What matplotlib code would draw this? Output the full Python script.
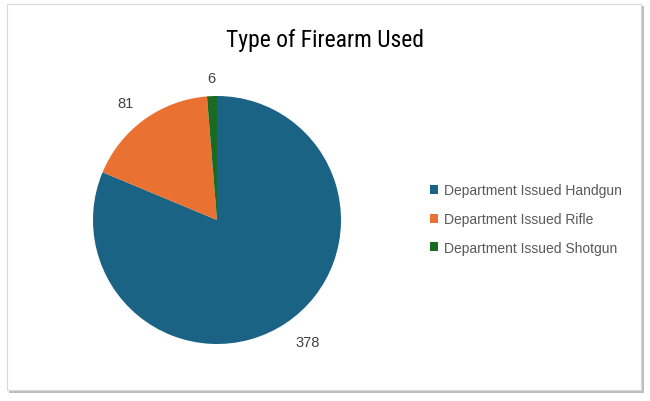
import numpy as np
import matplotlib
matplotlib.use("Agg")
from matplotlib import pyplot as plt
from matplotlib.patches import Rectangle

title = "Type of Firearm Used"
categories = ["Department Issued Handgun", "Department Issued Rifle", "Department Issued Shotgun"]
counts = [378, 81, 6]
colors = ["#1B6384", "#E97132", "#196B24"]

narrow = ["Roboto Condensed", "Liberation Sans Narrow", "Liberation Sans", "DejaVu Sans"]
plt.rcParams["font.family"] = ["Liberation Sans", "DejaVu Sans"]

W, H = 650, 402
fig = plt.figure(figsize=(W / 100, H / 100), dpi=100)
fig.patch.set_facecolor("white")

# chart frame with a soft shadow on the right and bottom
fig.add_artist(Rectangle((9 / W, 1 - 394 / H), 635 / W, 387 / H, transform=fig.transFigure,
                         facecolor="#bdbdbd", edgecolor="none", zorder=0))
fig.add_artist(Rectangle((7 / W, 1 - 391 / H), 634 / W, 386 / H, transform=fig.transFigure,
                         facecolor="white", edgecolor="#d9d9d9", linewidth=0.8, zorder=0))

cx, cy, r = 217, 221, 124
ax = fig.add_axes([(cx - r) / W, (H - cy - r) / H, 2 * r / W, 2 * r / H])
wedges, _ = ax.pie(counts, colors=colors, startangle=90, counterclock=False,
                   wedgeprops=dict(linewidth=0))
ax.set_xlim(-1, 1)
ax.set_ylim(-1, 1)
ax.set_aspect("equal")

# label distance and small angle nudge for each slice
dists = [1.23, 1.2, 1.15]
nudges = [3, 2, 0]
for w, n, d, a in zip(wedges, counts, dists, nudges):
    mid = np.deg2rad((w.theta1 + w.theta2) / 2 + a)
    ax.text(d * np.cos(mid), d * np.sin(mid), str(n), ha="center", va="center",
            fontsize=10.5, color="#404040", clip_on=False)

fig.text(0.5, 1 - 41 / H, title, ha="center", va="center", fontsize=17, color="black",
         family=narrow)

leg = fig.legend(wedges, categories, loc="center left", bbox_to_anchor=(423 / W, 1 - 220 / H),
                 frameon=False, fontsize=10, handlelength=0.6, handleheight=0.6,
                 handletextpad=0.4, labelspacing=1.05, borderpad=0)
for t in leg.get_texts():
    t.set_color("#595959")

fig.savefig("out.png", dpi=100, facecolor="white")
